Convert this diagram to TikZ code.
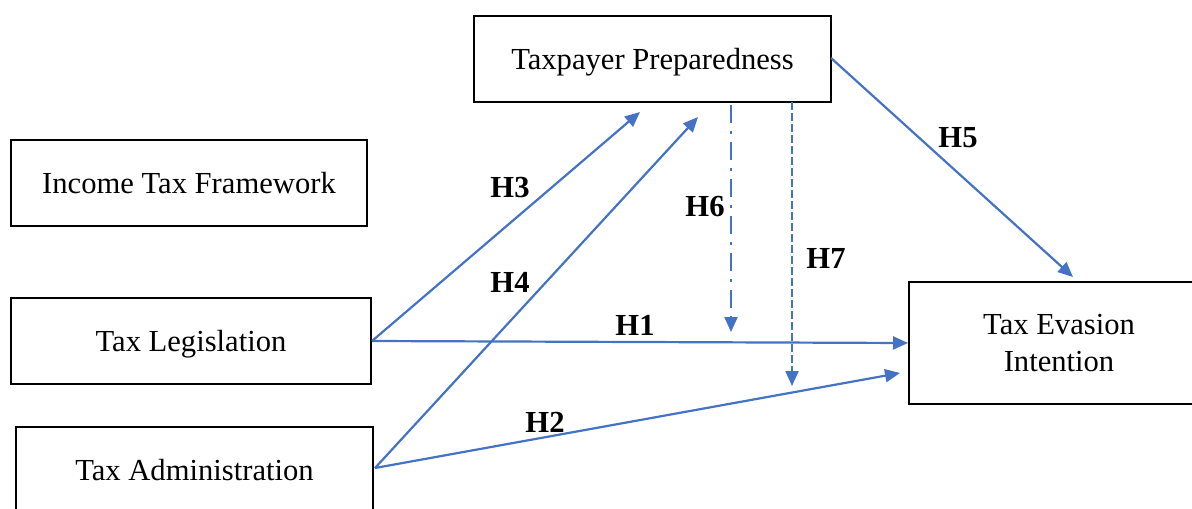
\documentclass[tikz,border=0pt]{standalone}
\usepackage{fontspec}
\setmainfont{Liberation Serif}
\usetikzlibrary{arrows.meta}
\definecolor{lnblue}{HTML}{4472C4}
\begin{document}
\begin{tikzpicture}[x=0.5pt,y=-0.5pt,
  box/.style={draw=black,line width=1pt,fill=white,inner sep=0pt,align=center,
    font=\fontsize{15.3}{18.5}\selectfont},
  conn/.style={draw=lnblue,line width=1.1pt,-{Triangle[length=7.5pt,width=6.5pt]}},
  lbl/.style={font=\fontsize{15.3}{18}\selectfont\bfseries,inner sep=0pt}]
\clip (0,0) rectangle (1192,508);
\useasboundingbox (0,0) rectangle (1192,508);
\node[box,minimum width=178.5pt,minimum height=43pt,text depth=0pt] (tp) at (652.5,59) {Taxpayer Preparedness};
\node[box,minimum width=178pt,minimum height=43pt,text depth=0pt] (itf) at (189,183) {Income Tax Framework};
\node[box,minimum width=180pt,minimum height=43pt,text depth=0pt] (tl) at (191,341) {Tax Legislation};
\node[box,minimum width=178.5pt,minimum height=43pt,text depth=0pt] (ta) at (194.5,470) {Tax Administration};
\node[box,minimum width=150pt,minimum height=61pt] (tei) at (1059,343) {\raisebox{-1.5pt}{\parbox{140pt}{\centering Tax Evasion\\[0pt]Intention}}};
\coordinate (h3e) at (640,112);
\coordinate (h4e) at (698,117);
\coordinate (h2e) at (900,373);
\coordinate (h5s) at (831,58);
\coordinate (h5e) at (1073,277);
\coordinate (h6s) at (731,105);
\coordinate (h6e) at (731,332);
\coordinate (h7s) at (792,102);
\coordinate (h7e) at (792,386);
\coordinate (tls) at (372,341);
\coordinate (tas) at (375,468);
\draw[conn] (tls) -- (h3e);
\draw[conn] (tas) -- (h4e);
\draw[conn] (tls) -- (tei.west);
\draw[conn] (tas) -- (h2e);
\draw[conn] (h5s) -- (h5e);
\draw[conn,dash pattern=on 9pt off 4pt on 1.5pt off 4pt] (h6s) -- (h6e);
\draw[conn,dash pattern=on 4pt off 1.5pt] (h7s) -- (h7e);
\node[lbl] (l3) at (510,188) {H3};
\node[lbl] (l4) at (510,282) {H4};
\node[lbl] (l1) at (635,325) {H1};
\node[lbl] (l2) at (545,422) {H2};
\node[lbl] (l5) at (958,138) {H5};
\node[lbl] (l6) at (705,207) {H6};
\node[lbl] (l7) at (826,258) {H7};
\end{tikzpicture}
\end{document}
